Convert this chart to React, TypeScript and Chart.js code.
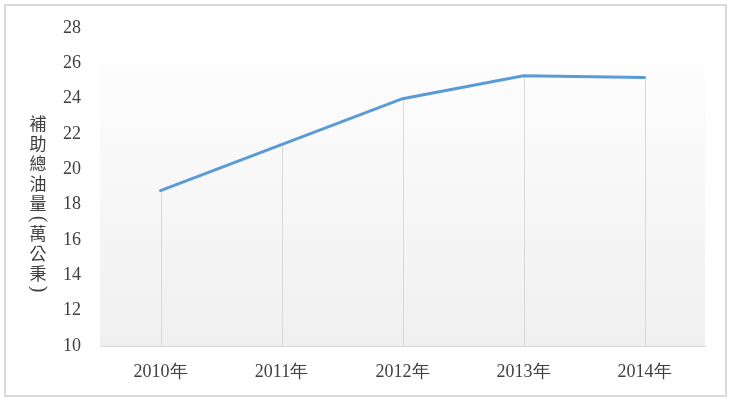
import React, { useEffect, useRef } from "react";
import { Chart, registerables } from "chart.js";

Chart.register(...registerables);

const years = ["2010年", "2011年", "2012年", "2013年", "2014年"];
const fuelTotals = [18.8, 21.4, 24.0, 25.3, 25.2];
const yMin = 10;
const yMax = 28;
const yStep = 2;
const bgTopValue = 26;
const yTitleChars = ["補", "助", "總", "油", "量", "(", "萬", "公", "秉", ")"];

const SERIF = "'Liberation Serif', 'Times New Roman', serif";
const CJK = "'Noto Sans CJK TC', 'Noto Sans CJK SC', sans-serif";
const TEXT_COLOR = "#404040";

const plotBgPlugin = {
  id: "plotBg",
  beforeDraw(chart: any) {
    const { ctx, chartArea, scales } = chart;
    const top = scales.y.getPixelForValue(bgTopValue);
    const g = ctx.createLinearGradient(0, top, 0, chartArea.bottom);
    g.addColorStop(0, "#fdfdfd");
    g.addColorStop(1, "#f0f0f0");
    ctx.save();
    ctx.fillStyle = g;
    ctx.fillRect(chartArea.left, top, chartArea.right - chartArea.left, chartArea.bottom - top);
    ctx.restore();
  },
};

const dropLinesPlugin = {
  id: "dropLines",
  beforeDatasetsDraw(chart: any) {
    const { ctx, chartArea } = chart;
    const meta = chart.getDatasetMeta(0);
    ctx.save();
    ctx.strokeStyle = "#d9d9d9";
    ctx.lineWidth = 1;
    meta.data.forEach((pt: any) => {
      const x = Math.round(pt.x) + 0.5;
      ctx.beginPath();
      ctx.moveTo(x, pt.y);
      ctx.lineTo(x, chartArea.bottom);
      ctx.stroke();
    });
    ctx.restore();
  },
};

const yTitlePlugin = {
  id: "yTitleVertical",
  afterDraw(chart: any) {
    const { ctx } = chart;
    const x = 32;
    let y = 108;
    ctx.save();
    ctx.fillStyle = TEXT_COLOR;
    ctx.textAlign = "center";
    ctx.textBaseline = "middle";
    yTitleChars.forEach((ch) => {
      const isParen = ch === "(" || ch === ")";
      const adv = isParen ? 10 : 20;
      const cy = y + adv / 2;
      if (isParen) {
        ctx.save();
        ctx.font = `20px ${SERIF}`;
        ctx.translate(x, cy);
        ctx.rotate(Math.PI / 2);
        ctx.fillText(ch, 0, 0);
        ctx.restore();
      } else {
        ctx.font = `17px ${CJK}`;
        ctx.fillText(ch, x, cy);
      }
      y += adv;
    });
    ctx.restore();
  },
};

export default function App() {
  const canvasRef = useRef<HTMLCanvasElement | null>(null);

  useEffect(() => {
    if (!canvasRef.current) return;
    const chart = new Chart(canvasRef.current, {
      type: "line",
      data: {
        labels: years,
        datasets: [
          {
            label: "補助總油量(萬公秉)",
            data: fuelTotals,
            borderColor: "#5b9bd5",
            backgroundColor: "#5b9bd5",
            borderWidth: 3,
            pointRadius: 0,
            tension: 0,
            fill: false,
            borderCapStyle: "round",
          },
        ],
      },
      options: {
        animation: false,
        responsive: true,
        maintainAspectRatio: false,
        layout: { padding: { left: 0, right: 20, top: 22, bottom: 0 } },
        plugins: {
          legend: { display: false },
          tooltip: { enabled: false },
          title: { display: false },
        },
        scales: {
          x: {
            type: "category",
            offset: true,
            grid: { display: false, drawTicks: false },
            border: { display: true, color: "#d9d9d9", width: 1 },
            ticks: {
              color: TEXT_COLOR,
              font: { family: SERIF, size: 18 },
              padding: 15,
              maxRotation: 0,
            },
            afterFit: (s: any) => {
              s.height = 49;
              s.paddingLeft = 0;
              s.paddingRight = 0;
            },
          },
          y: {
            min: yMin,
            max: yMax,
            grid: { display: false, drawTicks: false },
            border: { display: false },
            ticks: {
              stepSize: yStep,
              color: TEXT_COLOR,
              font: { family: SERIF, size: 18 },
              padding: 19,
            },
            afterFit: (s: any) => {
              s.width = 94;
              s.paddingTop = 0;
              s.paddingBottom = 0;
            },
          },
        },
      },
      plugins: [plotBgPlugin, dropLinesPlugin, yTitlePlugin],
    });
    return () => chart.destroy();
  }, []);

  return (
    <div
      style={{
        position: "fixed",
        left: 4,
        top: 4,
        width: 723,
        height: 393,
        border: "2px solid #d9d9d9",
        boxSizing: "border-box",
        background: "#ffffff",
      }}
    >
      <div style={{ position: "relative", width: 719, height: 389 }}>
        <canvas ref={canvasRef} />
      </div>
    </div>
  );
}
